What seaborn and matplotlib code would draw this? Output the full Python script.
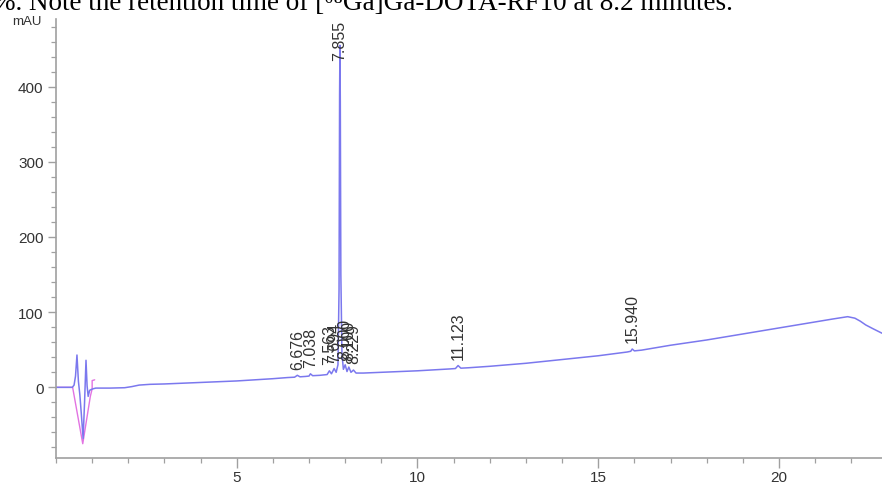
import numpy as np
import pandas as pd
import matplotlib
matplotlib.use("Agg")
import matplotlib.pyplot as plt
from matplotlib.ticker import MultipleLocator, FixedLocator
import seaborn as sns

# chromatogram trace (minutes, mAU)
time_min = [0, 0.45, 0.50, 0.54, 0.58, 0.62, 0.66, 0.70, 0.75, 0.79, 0.83, 0.86,
            0.89, 0.93, 0.97, 1.02, 1.10, 1.2, 1.5, 1.9, 2.1, 2.3, 2.6, 3.0, 3.5,
            4.0, 4.5, 5.0, 5.5, 6.0, 6.4, 6.6, 6.676, 6.75, 6.9, 7.0, 7.038, 7.1,
            7.3, 7.5, 7.563, 7.62, 7.694, 7.75, 7.8, 7.83, 7.845, 7.855, 7.865,
            7.88, 7.91, 7.95, 8.0, 8.05, 8.1, 8.16, 8.229, 8.3, 8.5, 9.0, 10.0,
            10.9, 11.05, 11.123, 11.2, 11.4, 12.0, 13.0, 14.0, 15.0, 15.8, 15.9,
            15.94, 16.0, 16.2, 17.0, 18.0, 19.0, 20.0, 21.0, 21.5, 21.9, 22.1,
            22.25, 22.4, 22.6, 22.85]
signal_mau = [0, 0, 3, 15, 43, 8, -10, -35, -68, -20, 36, 2,
              -12, -4, -3, -2, -1, -1, -1, -0.5, 1, 3, 4, 4.5, 5.5,
              6.5, 7.5, 8.5, 10, 11.5, 13, 13.5, 16, 14, 14.5, 15, 18, 15.5,
              16, 17, 22, 18, 25, 20, 30, 130, 390, 455, 380,
              150, 45, 24, 30, 21, 27, 20, 23, 19, 19, 20, 22,
              24.5, 25, 29, 25.5, 26, 28, 32, 37, 42, 47, 48,
              51, 48.5, 49.5, 56, 63, 71, 79, 87, 91, 94, 92,
              88, 83, 78, 72]

# second (reference) trace around the injection disturbance
ref_time = [0, 0.46, 0.74, 0.95, 1.0, 1.0, 1.07]
ref_signal = [0, 0, -75, -12, -2, 9, 10]

# integrated peaks
peak_rt = [6.676, 7.038, 7.563, 7.694, 7.855, 8.000, 8.100, 8.229, 11.123, 15.940]
peak_height = [16, 18, 22, 25, 455, 30, 27, 23, 29, 51]
peak_labels = ["6.676", "7.038", "7.563", "7.694", "7.855", "8.000", "8.100",
               "8.229", "11.123", "15.940"]

caption = "%. Note the retention time of [\u2076\u2078Ga]Ga-DOTA-RF10 at 8.2 minutes."

trace = pd.DataFrame({"t": time_min, "mAU": signal_mau})
ref = pd.DataFrame({"t": ref_time, "mAU": ref_signal})

sns.set_style("ticks")
plt.rcParams["font.family"] = ["Liberation Sans", "DejaVu Sans"]

fig = plt.figure(figsize=(8.82, 4.85), dpi=100)
ax = fig.add_axes([56 / 882, 26 / 485, 1 - 56 / 882, (459 - 20) / 485])

sns.lineplot(data=ref, x="t", y="mAU", ax=ax, color="#e273e2", lw=1.0,
             sort=False, estimator=None)
sns.lineplot(data=trace, x="t", y="mAU", ax=ax, color="#7b78ee", lw=1.1,
             sort=False, estimator=None)

for rt, h, lab in zip(peak_rt, peak_height, peak_labels):
    ax.text(rt, min(h + 9, 436), lab, rotation=90, ha="center", va="bottom",
            fontsize=11.5, color="#333333")

ax.set_xlim(0, 22.85)
ax.set_ylim(-94, 490)
ax.xaxis.set_major_locator(FixedLocator([5, 10, 15, 20]))
ax.xaxis.set_minor_locator(MultipleLocator(1))
ax.yaxis.set_major_locator(FixedLocator([0, 100, 200, 300, 400]))
ax.yaxis.set_minor_locator(FixedLocator(list(range(-80, 481, 20))))
ax.tick_params(axis="both", which="major", labelsize=11, colors="#a0a0a0",
               labelcolor="#333333", width=1.0)
ax.tick_params(axis="x", which="major", length=7, pad=2)
ax.tick_params(axis="y", which="major", length=6, pad=3)
ax.tick_params(axis="both", which="minor", length=3.5, colors="#a0a0a0", width=0.9)
ax.set_xlabel("")
ax.set_ylabel("")
sns.despine(ax=ax, top=True, right=True)
for s in ["left", "bottom"]:
    ax.spines[s].set_color("#a0a0a0")
    ax.spines[s].set_linewidth(1.2)

fig.text(12 / 882, 1 - 22 / 485, "mAU", fontsize=9.5, color="#333333",
         ha="left", va="center")
fig.text(-0.008, 1 - 10 / 485, caption, fontsize=19.5, va="baseline", ha="left",
         family=["Liberation Serif", "DejaVu Serif"], color="black")

fig.savefig("out.png", dpi=100)
